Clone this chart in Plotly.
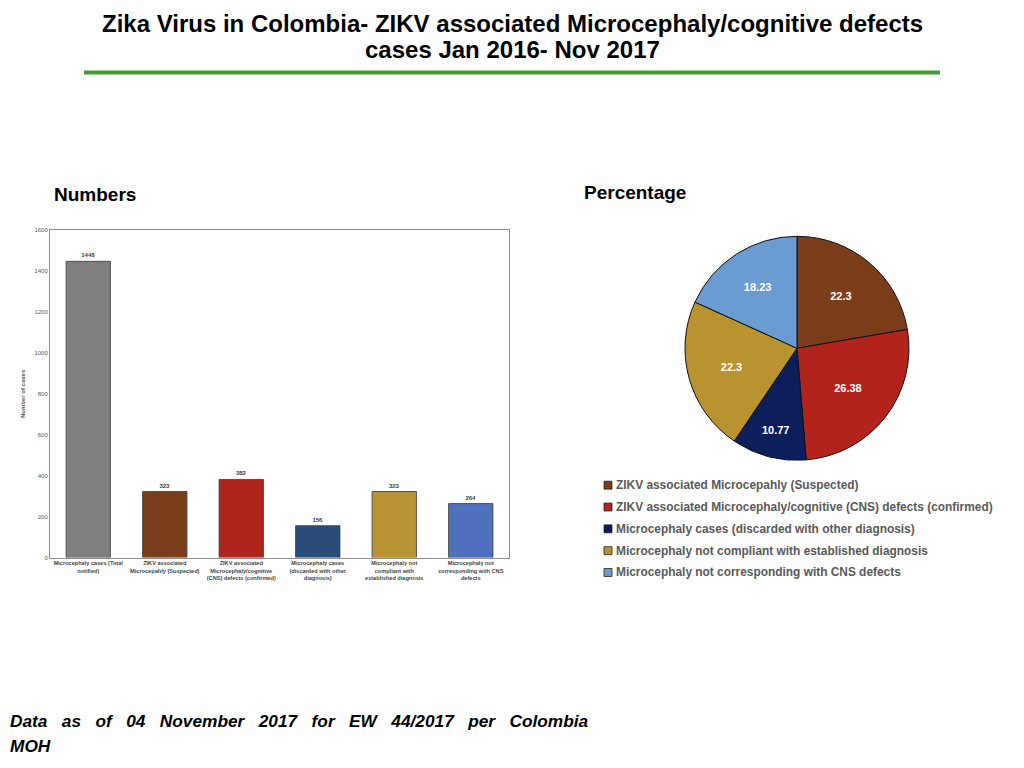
import plotly.graph_objects as go

# bar chart: counts
bar_categories = [
    "Microcephaly cases (Total<br>notified)",
    "ZIKV associated<br>Microcepahly (Suspected)",
    "ZIKV associated<br>Microcephaly/cognitive<br>(CNS) defects (confirmed)",
    "Microcephaly cases<br>(discarded with other<br>diagnosis)",
    "Microcephaly not<br>compliant with<br>established diagnosis",
    "Microcephaly not<br>corresponding with CNS<br>defects",
]
bar_values = [1448, 323, 382, 156, 323, 264]
bar_colors = ["#7f7f7f", "#7a3e1b", "#b0251c", "#2a4c78", "#b89334", "#4f71be"]

# pie chart: percentages
pie_labels = [
    "ZIKV associated Microcepahly (Suspected)",
    "ZIKV associated Microcephaly/cognitive (CNS) defects (confirmed)",
    "Microcephaly cases (discarded with other diagnosis)",
    "Microcephaly not compliant with established diagnosis",
    "Microcephaly not corresponding with CNS defects",
]
pie_values = [22.3, 26.38, 10.77, 22.3, 18.23]
pie_colors = ["#7a3e1a", "#b2241b", "#0c1f5a", "#b8932f", "#6a9bd1"]

title_lines = ["Zika Virus in Colombia- ZIKV associated Microcephaly/cognitive defects",
               "cases Jan 2016- Nov 2017"]

# page has an 8px body margin, so the figure is a bit smaller than the window
OFF = 8
W, H = 1024 - 2 * OFF, 768 - 2 * OFF


def px(x):
    return (x - OFF) / W


def py(y):
    return 1 - (y - OFF) / H


fig = go.Figure()

fig.add_trace(go.Bar(
    x=bar_categories, y=bar_values,
    marker=dict(color=bar_colors, line=dict(color="#3a3a3a", width=0.8)),
    width=0.58,
    text=[str(v) for v in bar_values], textposition="outside",
    textfont=dict(size=6, color="#404040", family="Arial", weight="bold"),
    cliponaxis=False, showlegend=False,
))

fig.add_trace(go.Pie(
    labels=pie_labels, values=pie_values,
    marker=dict(colors=pie_colors, line=dict(color="#111111", width=1)),
    sort=False, direction="clockwise", rotation=0,
    textinfo="text", text=[str(v) for v in pie_values],
    textposition="inside", insidetextorientation="horizontal",
    textfont=dict(size=11, color="white", family="Arial", weight="bold"),
    domain=dict(x=[px(685), px(909)], y=[py(461), py(235)]),
    showlegend=False,
))

fig.update_layout(
    width=W, height=H,
    margin=dict(l=0, r=0, t=0, b=0),
    paper_bgcolor="white", plot_bgcolor="white",
    font=dict(family="Arial", color="#595959"),
    xaxis=dict(
        domain=[px(50), px(509)],
        showline=True, linecolor="#8c8c8c", linewidth=1, mirror=True,
        ticks="", tickfont=dict(size=5.6, color="#444444", weight="bold"),
        tickangle=0,
    ),
    yaxis=dict(
        domain=[py(559), py(229)],
        range=[0, 1600], dtick=200,
        showgrid=False, zeroline=False,
        showline=True, linecolor="#8c8c8c", linewidth=1, mirror=True,
        ticks="", tickfont=dict(size=6, color="#595959"),
        title=dict(text="Number of cases", font=dict(size=6, color="#595959", weight="bold"), standoff=8),
    ),
    bargap=0.42,
)

# legend for the pie, drawn by hand so the spacing matches
for i, (lab, col) in enumerate(zip(pie_labels, pie_colors)):
    yc = 486 + 22 * i
    fig.add_shape(type="rect", xref="paper", yref="paper",
                  x0=px(604), x1=px(612), y0=py(yc + 4), y1=py(yc - 4),
                  fillcolor=col, line=dict(color="#222222", width=0.8))
    fig.add_annotation(text=lab, x=px(614), y=py(yc), xref="paper", yref="paper",
                       xanchor="left", yanchor="middle", showarrow=False,
                       font=dict(family="Arial", size=11.9, color="#595959", weight="bold"))

# title and green rule
for i, line in enumerate(title_lines):
    fig.add_annotation(
        text=line, x=0.5, y=py(21 + 26 * i), xref="paper", yref="paper",
        xanchor="center", yanchor="middle", showarrow=False,
        font=dict(family="Arial", size=24, color="black", weight="bold"),
    )
fig.add_shape(type="line", xref="paper", yref="paper",
              x0=px(84), x1=px(940), y0=py(70), y1=py(70),
              line=dict(color="#4a9a3a", width=4))

fig.add_annotation(text="Numbers", x=px(52), y=py(193), xref="paper", yref="paper",
                   xanchor="left", yanchor="middle", showarrow=False,
                   font=dict(family="Arial", size=19, color="black", weight="bold"))
fig.add_annotation(text="Percentage", x=px(582), y=py(191), xref="paper", yref="paper",
                   xanchor="left", yanchor="middle", showarrow=False,
                   font=dict(family="Arial", size=19, color="black", weight="bold"))

fig.add_annotation(
    text="<b><i>Data   as   of   04   November   2017   for   EW   44/2017   per   Colombia</i></b>",
    x=px(8), y=py(724), xref="paper", yref="paper", xanchor="left", yanchor="middle",
    showarrow=False, align="left",
    font=dict(family="Arial", size=17.3, color="black"),
)
fig.add_annotation(
    text="<b><i>MOH</i></b>",
    x=px(8), y=py(749), xref="paper", yref="paper", xanchor="left", yanchor="middle",
    showarrow=False, align="left",
    font=dict(family="Arial", size=17.3, color="black"),
)

fig.write_html("out.html")
